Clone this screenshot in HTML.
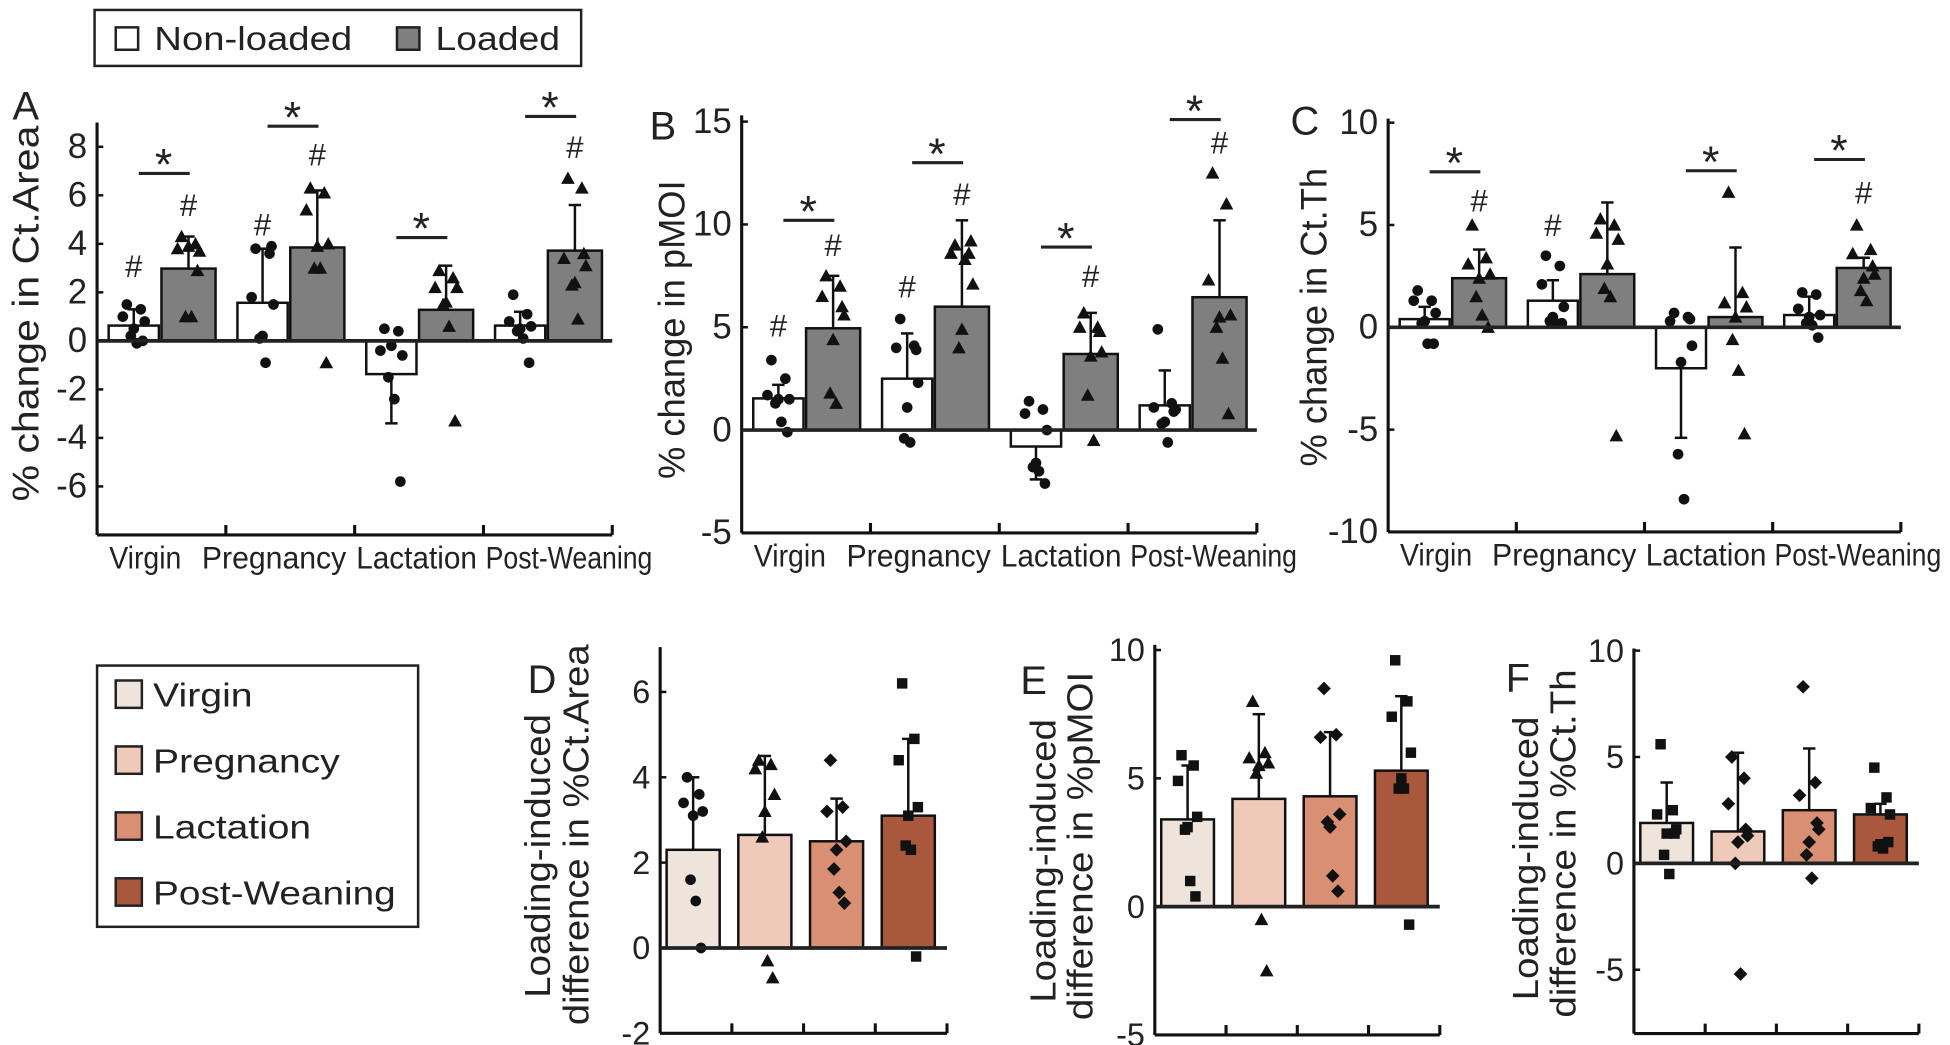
<!DOCTYPE html>
<html><head><meta charset="utf-8"><style>
html,body{margin:0;padding:0;background:#fff;}
svg{display:block;font-family:"Liberation Sans",Arial,sans-serif;}
</style></head><body>
<svg id="fig" width="1950" height="1045" viewBox="0 0 1567 840" preserveAspectRatio="none" xmlns="http://www.w3.org/2000/svg">
<rect width="1567" height="840" fill="#fff"/>
<g>
<rect x="76" y="8" width="391" height="45" fill="#fff" stroke="#222" stroke-width="2"/>
<rect x="93" y="22" width="18" height="18" fill="#fff" stroke="#222" stroke-width="2"/>
<text x="124" y="40" font-size="27" textLength="159" lengthAdjust="spacingAndGlyphs" fill="#222">Non-loaded</text>
<rect x="319" y="22" width="18" height="18" fill="#7f7f7f" stroke="#222" stroke-width="2"/>
<text x="350" y="40" font-size="27" textLength="100" lengthAdjust="spacingAndGlyphs" fill="#222">Loaded</text>
</g>
<g>
<rect x="78" y="535" width="258" height="210" fill="#fff" stroke="#222" stroke-width="2"/>
<rect x="93" y="547" width="21" height="22" fill="#efe4dc" stroke="#222" stroke-width="2"/>
<text x="123" y="568" font-size="27" textLength="80" lengthAdjust="spacingAndGlyphs" fill="#222">Virgin</text>
<rect x="93" y="600" width="21" height="22" fill="#efc9b9" stroke="#222" stroke-width="2"/>
<text x="123" y="621" font-size="27" textLength="150" lengthAdjust="spacingAndGlyphs" fill="#222">Pregnancy</text>
<rect x="93" y="653" width="21" height="22" fill="#d98f73" stroke="#222" stroke-width="2"/>
<text x="123" y="674" font-size="27" textLength="127" lengthAdjust="spacingAndGlyphs" fill="#222">Lactation</text>
<rect x="93" y="706" width="21" height="22" fill="#a9583e" stroke="#222" stroke-width="2"/>
<text x="123" y="727" font-size="27" textLength="195" lengthAdjust="spacingAndGlyphs" fill="#222">Post-Weaning</text>
</g>
</svg>
<script>
// ---------- data ----------
const categories = ['Virgin','Pregnancy','Lactation','Post-Weaning'];
// Panel A  (% change in Ct.Area)
const aNonLoaded = [0.63, 1.57, -1.37, 0.63];
const aLoaded = [2.98, 3.85, 1.28, 3.72];
const aNonLoadedErr = [1.3, 3.8, -3.4, 1.2];
const aLoadedErr = [4.3, 6.2, 3.1, 5.6];
const aNonLoadedPts = [[1.5,1.3,1.0,0.8,0.5,0.2,-0.1,0.0],[3.8,3.6,1.8,1.5,0.2,0.1,-0.9,3.9],[0.5,0.4,-0.4,-0.6,-0.2,-1.5,-2.4,-5.8],[1.9,1.1,0.8,0.6,0.5,0.4,0.1,-0.9]];
const aLoadedPts = [[4.3,4.0,3.8,3.7,3.9,1.0,1.0,2.9],[6.3,6.1,5.4,4.0,3.9,3.0,3.0,-0.9],[2.9,2.6,2.2,2.2,1.6,1.5,0.6,-3.3],[6.7,6.3,3.4,3.1,2.4,2.3,0.9,3.6]];
const aSig = [6.9, 8.85, 4.26, 9.25];
const aHashNL = [3.1, 4.8, null, null];
const aHashL = [5.6, 7.7, null, 8.0];
const aTicks = [8,6,4,2,0,-2,-4,-6];
// Panel B  (% change in pMOI)
const bNonLoaded = [1.54, 2.5, -0.8, 1.2];
const bLoaded = [4.95, 6.0, 3.7, 6.46];
const bNonLoadedErr = [2.2, 4.7, -2.4, 2.9];
const bLoadedErr = [7.5, 10.2, 5.7, 10.2];
const bNonLoadedPts = [[3.4,2.5,1.7,1.5,1.5,1.3,0.4,-0.1],[5.4,4.1,4.0,2.3,1.1,-0.4,-0.6,3.9],[1.4,1.0,0.8,0.0,-1.6,-1.8,-2.0,-2.6],[4.9,1.3,1.1,1.0,0.4,0.3,-0.6,0.9]];
const bLoadedPts = [[7.5,7.0,6.5,5.6,4.4,1.8,1.3,6.0],[9.0,8.6,8.6,7.1,4.9,4.0,8.3,9.2],[5.7,5.0,5.0,3.8,3.6,1.7,-0.5,4.8],[12.5,11.0,7.3,5.6,5.5,5.0,3.5,0.8]];
const bSig = [10.2, 13.0, 8.9, 15.1];
const bHashNL = [5.1, 7.0, null, null];
const bHashL = [9.0, 11.5, 7.5, 14.0];
const bTicks = [15,10,5,0,-5];
// Panel C  (% change in Ct.Th)
const cNonLoaded = [0.4, 1.3, -2.0, 0.6];
const cLoaded = [2.4, 2.6, 0.5, 2.9];
const cNonLoadedErr = [1.0, 2.3, -5.4, 1.5];
const cLoadedErr = [3.8, 6.1, 3.9, 3.4];
const cNonLoadedPts = [[1.8,1.3,1.3,0.7,0.3,0.2,-0.8,-0.8],[3.5,3.0,2.1,1.0,0.5,0.3,0.2,0.2],[0.7,0.5,0.3,-0.9,-1.7,-6.2,-8.4,0.4],[1.7,1.6,0.9,0.6,0.5,0.2,0.1,-0.5]];
const cLoadedPts = [[5.0,3.4,3.1,2.6,2.4,1.5,0.6,0.0],[5.3,5.0,4.6,4.3,3.1,1.9,1.5,-5.3],[6.6,1.7,1.2,1.0,0.5,-0.6,-2.1,-5.2],[5.0,3.8,3.6,2.6,2.4,1.8,1.3,3.0]];
const cSig = [7.6, null, 7.65, 8.2];
const cHashNL = [null, 5.0, null, null];
const cHashL = [6.2, null, null, 6.6];
const cTicks = [10,5,0,-5,-10];
// Panel D (loading-induced difference in %Ct.Area)
const dMeans = [2.3, 2.65, 2.5, 3.1];
const dErr = [4.0, 4.5, 3.5, 4.9];
const dPts = [[4.0,3.6,3.4,3.2,3.1,1.6,1.1,0.0],[4.4,4.3,4.2,3.6,3.2,2.6,-0.3,-0.7],[4.4,3.3,3.2,2.5,2.3,1.85,1.3,1.05],[6.2,4.9,4.4,3.3,3.1,2.4,2.3,-0.2]];
const dTicks = [6,4,2,0,-2];
// Panel E (%pMOI)
const eMeans = [3.4, 4.2, 4.3, 5.3];
const eErr = [5.5, 7.5, 6.8, 8.2];
const ePts = [[5.9,5.5,4.9,3.5,3.1,3.0,1.0,0.4],[8.0,6.0,5.8,5.6,5.5,5.2,-0.5,-2.5],[8.5,6.7,6.6,3.6,3.1,3.3,1.2,0.6],[9.6,8.0,7.4,6.0,5.0,4.6,4.6,-0.7]];
const eTicks = [10,5,0,-5];
// Panel F (%Ct.Th)
const fMeans = [1.9, 1.5, 2.5, 2.3];
const fErr = [3.8, 5.2, 5.4, 2.8];
const fPts = [[5.6,2.5,2.3,1.6,1.4,0.4,-0.5,1.4],[5.0,4.0,2.8,1.3,1.0,0.0,-5.2,1.6],[8.3,3.8,3.2,1.6,1.0,0.4,-0.7,1.9],[4.5,3.1,2.6,2.3,0.9,0.8,0.7,1.0]];
const fTicks = [10,5,0,-5];

// ---------- drawing ----------
const NS = 'http://www.w3.org/2000/svg';
const svg = document.getElementById('fig');
function mk(tag, attrs, parent){
  const e = document.createElementNS(NS, tag);
  for (const k in attrs) e.setAttribute(k, attrs[k]);
  (parent || svg).appendChild(e);
  return e;
}
const jit = [-7,7,-11,11,0,-3,3,9];
const fills = ['#efe4dc','#efc9b9','#d98f73','#a9583e'];
const labelOffsets = [-13,-13,-2,17];
const labelWidths = [58,116,97,134];

function marker(shape, cx, cy, g){
  let e;
  if (shape === 'circle') e = mk('circle', {cx:cx, cy:cy, r:4.3, fill:'#111'}, g);
  else if (shape === 'square') e = mk('rect', {x:cx-4.2, y:cy-4.2, width:8.4, height:8.4, fill:'#111'}, g);
  else if (shape === 'diamond') e = mk('polygon', {points:`${cx},${cy-5.5} ${cx+5.5},${cy} ${cx},${cy+5.5} ${cx-5.5},${cy}`, fill:'#111'}, g);
  else e = mk('polygon', {points:`${cx},${cy-5.5} ${cx+5.5},${cy+4.5} ${cx-5.5},${cy+4.5}`, fill:'#111'}, g);
  
  
}

function axes(p, ticks, g){
  const yAxis = mk('line', {x1:p.x0, y1:p.y(p.vTop), x2:p.x0, y2:p.y(p.vBot), stroke:'#111', 'stroke-width':2.5}, g);
  
  
  const xAxis = mk('line', {x1:p.x0, y1:p.y(p.vBot), x2:p.x1, y2:p.y(p.vBot), stroke:'#111', 'stroke-width':2.5}, g);
  
  
  const gw = (p.x1 - p.x0) / 4;
  for (let i = 1; i <= 4; i++){
    const t = mk('line', {x1:p.x0+gw*i, y1:p.y(p.vBot), x2:p.x0+gw*i, y2:p.y(p.vBot)-8, stroke:'#111', 'stroke-width':2.5}, g);
    
    
  }
  ticks.forEach(v => {
    const tk = mk('line', {x1:p.x0, y1:p.y(v), x2:p.x0+5, y2:p.y(v), stroke:'#111', 'stroke-width':2}, g);
    
    
    const tl = mk('text', {x:p.x0-8, y:p.y(v)+9, 'font-size':p.tfs, 'text-anchor':'end', fill:'#222'}, g);
    tl.textContent = String(v);
    
    
  });
}

function zeroLine(p, g){
  const z = mk('line', {x1:p.x0, y1:p.y(0), x2:p.x1, y2:p.y(0), stroke:'#222', 'stroke-width':3}, g);
  
  
}

function errBar(cx, fromV, toV, p, g){
  const l = mk('line', {x1:cx, y1:p.y(fromV), x2:cx, y2:p.y(toV), stroke:'#111', 'stroke-width':2}, g);
  
  
  const c = mk('line', {x1:cx-5, y1:p.y(toV), x2:cx+5, y2:p.y(toV), stroke:'#111', 'stroke-width':2}, g);
  
  
}

function bar(x, w, v, fill, p, g){
  const yA = p.y(Math.max(v,0)), yB = p.y(Math.min(v,0));
  const r = mk('rect', {x:x, y:yA, width:w, height:Math.max(yB-yA,0.5), fill:fill, stroke:'#111', 'stroke-width':2}, g);
  
  
}

function topPanel(p, nl, l, nlErr, lErr, nlPts, lPts, sig, hashNL, hashL, ticks){
  const g = mk('g', {});
  
  
  axes(p, ticks, g);
  const gw = (p.x1 - p.x0) / 4;
  categories.forEach((cat, i) => {
    const gx = p.x0 + gw*i;
    const wx = gx + gw*0.09, ww = gw*0.39;
    const lx = gx + gw*0.50, lw = gw*0.42;
    const wc = wx + ww/2, lc = lx + lw/2;
    bar(wx, ww, nl[i], '#fff', p, g);
    bar(lx, lw, l[i], '#7f7f7f', p, g);
    errBar(wc, nl[i], nlErr[i], p, g);
    errBar(lc, l[i], lErr[i], p, g);
    nlPts[i].forEach((v, j) => marker('circle', wc + jit[j]*0.8, p.y(v), g));
    lPts[i].forEach((v, j) => marker('triangle', lc + jit[j]*0.8, p.y(v), g));
    if (sig[i] !== null){
      const sl = mk('line', {x1:wc+4, y1:p.y(sig[i]), x2:lc+1, y2:p.y(sig[i]), stroke:'#222', 'stroke-width':2.5}, g);
      
      
      const st = mk('text', {x:(wc+lc)/2+2, y:p.y(sig[i])+5, 'font-size':36, 'text-anchor':'middle', fill:'#222'}, g);
      st.textContent = '*';
      
      
    }
    if (hashNL[i] !== null){
      const h = mk('text', {x:wc, y:p.y(hashNL[i])+9, 'font-size':25, 'text-anchor':'middle', fill:'#222'}, g);
      h.textContent = '#';
      
      
    }
    if (hashL[i] !== null){
      const h = mk('text', {x:lc, y:p.y(hashL[i])+9, 'font-size':25, 'text-anchor':'middle', fill:'#222'}, g);
      h.textContent = '#';
      
      
    }
    const cl = mk('text', {x:gx+gw/2+labelOffsets[i], y:p.y(p.vBot)+27, 'font-size':25, 'text-anchor':'middle', textLength:labelWidths[i], lengthAdjust:'spacingAndGlyphs', fill:'#222'}, g);
    cl.textContent = cat;
    
    
  });
  zeroLine(p, g);
  return g;
}

function bottomPanel(p, means, err, pts, shapes, ticks){
  const g = mk('g', {});
  
  
  axes(p, ticks, g);
  const gw = (p.x1 - p.x0) / 4;
  categories.forEach((cat, i) => {
    const gx = p.x0 + gw*i;
    const bx = gx + gw*0.09, bw = gw*0.74;
    const c = bx + bw/2;
    bar(bx, bw, means[i], fills[i], p, g);
    errBar(c, means[i], err[i], p, g);
    pts[i].forEach((v, j) => marker(shapes[i], c + jit[j]*0.7, p.y(v), g));
  });
  zeroLine(p, g);
  return g;
}

function mkPanel(name, x0, x1, y0, k, vTop, vBot, tfs){
  return {name:name, x0:x0, x1:x1, vTop:vTop, vBot:vBot, tfs:tfs, y:v => y0 - v*k};
}

const pA = mkPanel('panel-a', 78, 492, 274, 19.5, 9.0, -8, 28);
const pB = mkPanel('panel-b', 596, 1010, 345.7, 16.53, 15.3, -5, 28);
const pC = mkPanel('panel-c', 1115.5, 1527.5, 263.1, 16.45, 10.2, -10, 28);
const pD = mkPanel('panel-d', 530.5, 761, 762, 34.3, 7.05, -2, 26);
const pE = mkPanel('panel-e', 928, 1157, 728.8, 20.63, 10.2, -5, 26);
const pF = mkPanel('panel-f', 1313, 1542, 694, 17.1, 10.1, -8, 26);

topPanel(pA, aNonLoaded, aLoaded, aNonLoadedErr, aLoadedErr, aNonLoadedPts, aLoadedPts, aSig, aHashNL, aHashL, aTicks);
topPanel(pB, bNonLoaded, bLoaded, bNonLoadedErr, bLoadedErr, bNonLoadedPts, bLoadedPts, bSig, bHashNL, bHashL, bTicks);
topPanel(pC, cNonLoaded, cLoaded, cNonLoadedErr, cLoadedErr, cNonLoadedPts, cLoadedPts, cSig, cHashNL, cHashL, cTicks);
bottomPanel(pD, dMeans, dErr, dPts, ['circle','triangle','diamond','square'], dTicks);
bottomPanel(pE, eMeans, eErr, ePts, ['square','triangle','diamond','square'], eTicks);
bottomPanel(pF, fMeans, fErr, fPts, ['square','diamond','diamond','square'], fTicks);

// axis titles & panel letters
function rotText(str, x, y, fs, len, name){
  const t = mk('text', {x:0, y:0, 'font-size':fs, 'text-anchor':'middle', transform:`translate(${x},${y}) rotate(-90)`, textLength:len, lengthAdjust:'spacingAndGlyphs', fill:'#222'});
  t.textContent = str;
  
  
}
rotText('% change in Ct.Area', 31, 252, 30, 302, 'y-axis-title-a');
rotText('% change in pMOI', 550, 265, 30, 240, 'y-axis-title-b');
rotText('% change in Ct.Th', 1066, 255, 30, 240, 'y-axis-title-c');
rotText('Loading-induced', 442, 688, 29, 228, 'y-axis-title-d-line1');
rotText('difference in %Ct.Area', 473, 671, 29, 306, 'y-axis-title-d-line2');
rotText('Loading-induced', 848, 692, 29, 228, 'y-axis-title-e-line1');
rotText('difference in %pMOI', 878, 680, 29, 280, 'y-axis-title-e-line2');
rotText('Loading-induced', 1236, 690, 29, 228, 'y-axis-title-f-line1');
rotText('difference in %Ct.Th', 1266, 678, 29, 280, 'y-axis-title-f-line2');

function letter(str, x, y){
  const t = mk('text', {x:x, y:y, 'font-size':32, fill:'#222'});
  t.textContent = str;
  
  
}
letter('A', 10, 96); letter('B', 522, 112); letter('C', 1037, 108);
letter('D', 424, 557); letter('E', 820, 558); letter('F', 1210, 556);
</script>
</body></html>
